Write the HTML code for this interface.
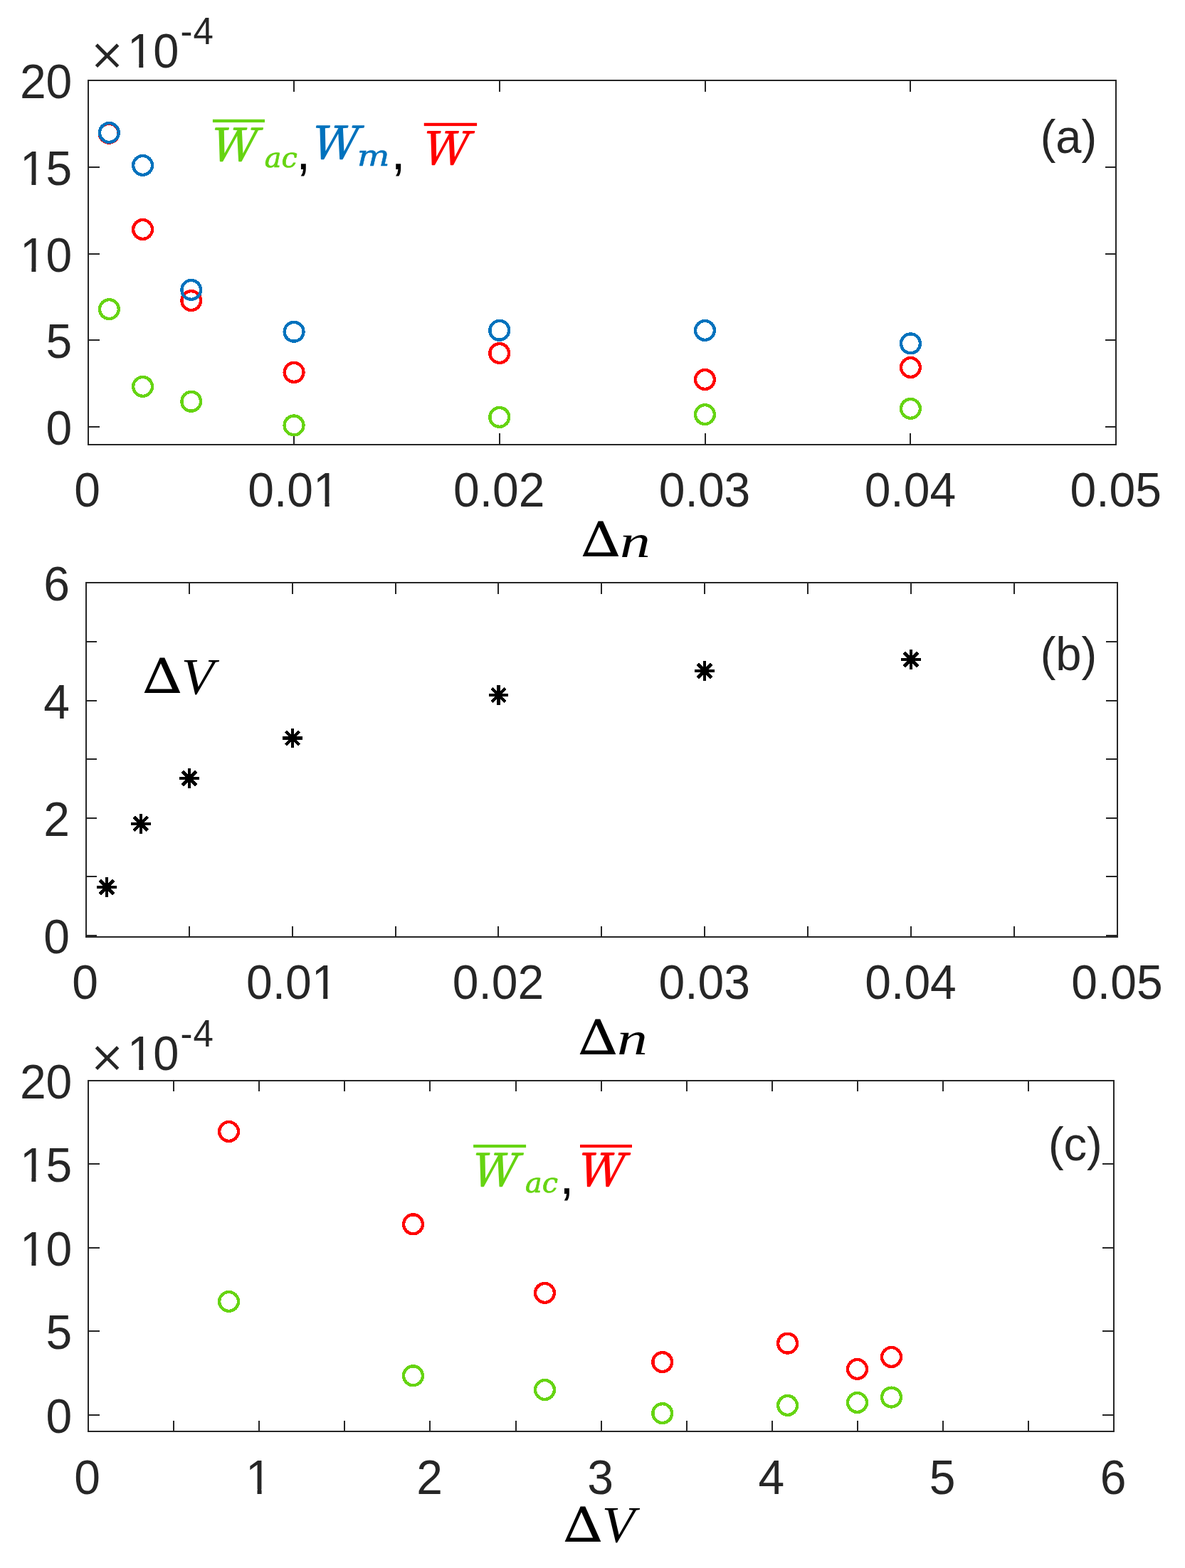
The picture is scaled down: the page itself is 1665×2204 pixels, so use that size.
<!DOCTYPE html>
<html lang="en">
<head>
<meta charset="utf-8">
<title>Figure: W versus Δn and ΔV</title>
<style>
html,body{margin:0;padding:0;background:#fff}
body{width:1665px;height:2204px;overflow:hidden}
svg{display:block}
.s{font-family:"Liberation Sans",sans-serif}
.r{font-family:"Liberation Serif",serif}
.i{font-family:"Liberation Serif",serif;font-style:italic}
.d{font-family:"DejaVu Sans","Liberation Sans",sans-serif}
.dr{font-family:"DejaVu Serif","Liberation Serif",serif}
.di{font-family:"DejaVu Serif","Liberation Serif",serif;font-style:italic}
.dm{font-family:"DejaVu Math TeX Gyre","DejaVu Serif","Liberation Serif",serif}
.ni{font-family:"Noto Serif CJK SC","Liberation Serif",serif;font-style:italic}
.ax{fill:none;stroke:#262626;stroke-width:2}
.mk{fill:none;shape-rendering:crispEdges}
.st{fill:none;stroke:#000;shape-rendering:crispEdges}
</style>
</head>
<body>
<svg xmlns="http://www.w3.org/2000/svg" width="1665" height="2204" viewBox="0 0 1665 2204">
<rect width="1665" height="2204" fill="#fff"/>
<defs>
<clipPath id="c15" clipPathUnits="userSpaceOnUse"><path d="M-9 -70H260V20H36.00V-6.2H22.80V20H16.65V-6.2H2.00V20H-9Z"/></clipPath>
<clipPath id="c10" clipPathUnits="userSpaceOnUse"><path d="M-9 -70H260V20H36.00V-6.2H22.80V20H16.65V-6.2H2.00V20H-9Z"/></clipPath>
<clipPath id="c0_01" clipPathUnits="userSpaceOnUse"><path d="M-9 -70H260V20H128.68V-6.2H115.48V20H109.33V-6.2H94.68V20H-9Z"/></clipPath>
<clipPath id="c1" clipPathUnits="userSpaceOnUse"><path d="M-9 -70H260V20H36.00V-6.2H22.80V20H16.65V-6.2H2.00V20H-9Z"/></clipPath>
</defs>
<g id="panel-a">
<path class="ax" d="M124 113H1568V625H124ZM413 625v-16M413 113v16M702 625v-16M702 113v16M991 625v-16M991 113v16M1279 625v-16M1279 113v16M124 600h16M1568 600h-15M124 478h16M1568 478h-15M124 357h16M1568 357h-15M124 235h16M1568 235h-15"/>
<g class="mk" stroke="#66D412" stroke-width="4.4">
<circle cx="153.4" cy="434.6" r="13.4"/><circle cx="200.55" cy="543.4" r="13.4"/><circle cx="268.7" cy="564.3" r="13.4"/><circle cx="413.05" cy="597.9" r="13.4"/><circle cx="701.75" cy="586.4" r="13.4"/><circle cx="990.47" cy="582.6" r="13.4"/><circle cx="1279.45" cy="574.4" r="13.4"/>
</g>
<g class="mk" stroke="#FF0000" stroke-width="4.4">
<circle cx="153.1" cy="187.2" r="13.4"/><circle cx="200.55" cy="322.5" r="13.4"/><circle cx="268.7" cy="422.6" r="13.4"/><circle cx="413.05" cy="523.4" r="13.4"/><circle cx="701.75" cy="496.5" r="13.4"/><circle cx="990.47" cy="533.5" r="13.4"/><circle cx="1279.45" cy="516.5" r="13.4"/>
</g>
<g class="mk" stroke="#0072BD" stroke-width="4.4">
<circle cx="153.4" cy="186.5" r="13.4"/><circle cx="200.55" cy="232.45" r="13.4"/><circle cx="268.7" cy="407.4" r="13.4"/><circle cx="413.05" cy="466.3" r="13.4"/><circle cx="701.75" cy="464.3" r="13.4"/><circle cx="990.47" cy="464.46" r="13.4"/><circle cx="1279.45" cy="482.9" r="13.4"/>
</g>
</g>
<g id="panel-b">
<path class="ax" d="M121 819H1570V1317H121ZM266 1317v-15M266 819v16M411 1317v-15M411 819v16M556 1317v-15M556 819v16M700 1317v-15M700 819v16M845 1317v-15M845 819v16M990 1317v-15M990 819v16M1135 1317v-15M1135 819v16M1280 1317v-15M1280 819v16M1425 1317v-15M1425 819v16M121 1315h15M1570 1315h-16M121 1232h15M1570 1232h-16M121 1150h15M1570 1150h-16M121 1067h15M1570 1067h-16M121 985h15M1570 985h-16M121 902h15M1570 902h-16"/>
<path class="st" d="M136.1 1247.1h27.9M150.05 1233.15v27.9M183.85 1157.8h27.9M197.8 1143.85v27.9M251.95 1094.1h27.9M265.9 1080.15v27.9M397.05 1037.45h27.9M411 1023.5v27.9M686.55 977h27.9M700.5 963.05v27.9M976.15 943h27.9M990.1 929.05v27.9M1266.07 927h27.9M1280.02 913.05v27.9" stroke-width="4.167"/>
<path class="st" d="M140.43 1237.48l19.23 19.23M140.43 1256.72l19.23 -19.23M188.18 1148.18l19.23 19.23M188.18 1167.42l19.23 -19.23M256.28 1084.48l19.23 19.23M256.28 1103.72l19.23 -19.23M401.38 1027.83l19.23 19.23M401.38 1047.07l19.23 -19.23M690.88 967.38l19.23 19.23M690.88 986.62l19.23 -19.23M980.48 933.38l19.23 19.23M980.48 952.62l19.23 -19.23M1270.4 917.38l19.23 19.23M1270.4 936.62l19.23 -19.23" stroke-width="4.7"/>
</g>
<g id="panel-c">
<path class="ax" d="M124 1519H1565V2012H124ZM244 2012v-15M244 1519v15M364 2012v-15M364 1519v15M484 2012v-15M484 1519v15M604 2012v-15M604 1519v15M725 2012v-15M725 1519v15M845 2012v-15M845 1519v15M965 2012v-15M965 1519v15M1085 2012v-15M1085 1519v15M1205 2012v-15M1205 1519v15M1325 2012v-15M1325 1519v15M1445 2012v-15M1445 1519v15M124 1989h16M1565 1989h-16M124 1871h16M1565 1871h-16M124 1754h16M1565 1754h-16M124 1636h16M1565 1636h-16"/>
<g class="mk" stroke="#66D412" stroke-width="4.4">
<circle cx="321.53" cy="1829.46" r="13.4"/><circle cx="580.5" cy="1933.76" r="13.4"/><circle cx="765.48" cy="1953.5" r="13.4"/><circle cx="930.72" cy="1986.6" r="13.4"/><circle cx="1106.58" cy="1975.45" r="13.4"/><circle cx="1204.52" cy="1971.49" r="13.4"/><circle cx="1252.52" cy="1964.03" r="13.4"/>
</g>
<g class="mk" stroke="#FF0000" stroke-width="4.4">
<circle cx="321.53" cy="1590.49" r="13.4"/><circle cx="580.5" cy="1720.8" r="13.4"/><circle cx="765.48" cy="1817.41" r="13.4"/><circle cx="930.72" cy="1914.55" r="13.4"/><circle cx="1106.58" cy="1888.17" r="13.4"/><circle cx="1204.52" cy="1924.46" r="13.4"/><circle cx="1252.52" cy="1907.49" r="13.4"/>
</g>
</g>
<g id="labels" font-size="66.67" fill="#262626">
<text class="s" transform="translate(27.88 138.45) scale(0.99 1.025)">20</text>
<text class="s" transform="translate(27.88 260.45) scale(0.99 1.025)" clip-path="url(#c15)">15</text>
<text class="s" transform="translate(27.88 382.45) scale(0.99 1.025)" clip-path="url(#c10)">10</text>
<text class="s" transform="translate(64.59 503.45) scale(0.99 1.025)">5</text>
<text class="s" transform="translate(64.59 625.45) scale(0.99 1.025)">0</text>
<text class="s" transform="translate(104.15 711.5) scale(0.99 1.025)">0</text>
<text class="s" transform="translate(348.27 711.5) scale(0.99 1.025)" clip-path="url(#c0_01)">0.01</text>
<text class="s" transform="translate(637.07 711.5) scale(0.99 1.025)">0.02</text>
<text class="s" transform="translate(925.87 711.5) scale(0.99 1.025)">0.03</text>
<text class="s" transform="translate(1214.67 711.5) scale(0.99 1.025)">0.04</text>
<text class="s" transform="translate(1503.47 711.5) scale(0.99 1.025)">0.05</text>
<text class="s" transform="translate(61.29 844.45) scale(0.99 1.025)">6</text>
<text class="s" transform="translate(61.29 1010.45) scale(0.99 1.025)">4</text>
<text class="s" transform="translate(61.29 1175.45) scale(0.99 1.025)">2</text>
<text class="s" transform="translate(61.29 1340.45) scale(0.99 1.025)">0</text>
<text class="s" transform="translate(101.15 1404.4) scale(0.99 1.025)">0</text>
<text class="s" transform="translate(345.97 1404.4) scale(0.99 1.025)" clip-path="url(#c0_01)">0.01</text>
<text class="s" transform="translate(635.77 1404.4) scale(0.99 1.025)">0.02</text>
<text class="s" transform="translate(925.57 1404.4) scale(0.99 1.025)">0.03</text>
<text class="s" transform="translate(1215.37 1404.4) scale(0.99 1.025)">0.04</text>
<text class="s" transform="translate(1505.17 1404.4) scale(0.99 1.025)">0.05</text>
<text class="s" transform="translate(27.88 1544.45) scale(0.99 1.025)">20</text>
<text class="s" transform="translate(27.88 1661.45) scale(0.99 1.025)" clip-path="url(#c15)">15</text>
<text class="s" transform="translate(27.88 1779.45) scale(0.99 1.025)" clip-path="url(#c10)">10</text>
<text class="s" transform="translate(64.59 1896.45) scale(0.99 1.025)">5</text>
<text class="s" transform="translate(64.59 2014.45) scale(0.99 1.025)">0</text>
<text class="s" transform="translate(104.15 2099.5) scale(0.99 1.025)">0</text>
<text class="s" transform="translate(345.01 2099.5) scale(0.99 1.025)" clip-path="url(#c1)">1</text>
<text class="s" transform="translate(585.18 2099.5) scale(0.99 1.025)">2</text>
<text class="s" transform="translate(825.35 2099.5) scale(0.99 1.025)">3</text>
<text class="s" transform="translate(1065.51 2099.5) scale(0.99 1.025)">4</text>
<text class="s" transform="translate(1305.68 2099.5) scale(0.99 1.025)">5</text>
<text class="s" transform="translate(1545.85 2099.5) scale(0.99 1.025)">6</text>
<text class="s" transform="translate(1461.65 215) scale(0.976 1.013)">(a)</text>
<text class="s" transform="translate(1461.65 941.8) scale(0.976 1.013)">(b)</text>
<text class="s" transform="translate(1472.9 1630.9) scale(0.976 1.013)">(c)</text>
<text class="dr" transform="translate(125.42 97.32) scale(0.9967 0.99)" font-size="60">×</text>
<text class="s" transform="translate(179.03 94.82) scale(0.975 1.025)" clip-path="url(#c10)">10</text>
<text class="s" transform="translate(253.42 61.6) scale(0.99 1.025)" font-size="51.5" letter-spacing="1.2">-4</text>
<text class="dr" transform="translate(125.42 1506.22) scale(0.9967 0.99)" font-size="60">×</text>
<text class="s" transform="translate(179.03 1503.72) scale(0.975 1.025)" clip-path="url(#c10)">10</text>
<text class="s" transform="translate(253.42 1470.5) scale(0.99 1.025)" font-size="51.5" letter-spacing="1.2">-4</text>
<text class="dm" transform="translate(812.32 782.2) scale(1.198 1.021)" font-size="66" fill="#000">Δ</text>
<text class="i" transform="translate(871.1 783) scale(1.19 0.9222)" font-size="72" fill="#000">n</text>
<text class="dm" transform="translate(808.22 1482.3) scale(1.198 1.021)" font-size="66" fill="#000">Δ</text>
<text class="i" transform="translate(867.05 1482.2) scale(1.19 0.9222)" font-size="72" fill="#000">n</text>
<text class="dm" transform="translate(196.32 974.45) scale(1.198 1.024)" font-size="66" fill="#000">Δ</text>
<text class="i" transform="translate(254.83 974.72) scale(1.049 0.9961)" font-size="72" fill="#000">V</text>
<text class="dm" transform="translate(787.22 2167.4) scale(1.198 1.025)" font-size="66" fill="#000">Δ</text>
<text class="i" transform="translate(845.83 2166.62) scale(1.049 0.9961)" font-size="72" fill="#000">V</text>
<text class="ni" transform="translate(290.8 225.9) scale(0.9687 0.9572)" font-size="66" fill="#66D412" stroke="#66D412" stroke-width="1.7" stroke-linejoin="round">W</text>
<text class="di" transform="translate(371.79 235.33) scale(0.9046 0.8975)" font-size="44" fill="#66D412" stroke="#66D412" stroke-width="0.8" stroke-linejoin="round">ac</text>
<text class="s" transform="translate(416.36 237.58) scale(1.001 0.9928)" font-size="72" fill="#000">,</text>
<text class="ni" transform="translate(432.68 222.8) scale(0.9701 0.9582)" font-size="66" fill="#0072BD" stroke="#0072BD" stroke-width="1.7" stroke-linejoin="round">W</text>
<text class="di" transform="translate(501.82 232.87) scale(1.097 0.9259)" font-size="44" fill="#0072BD" stroke="#0072BD" stroke-width="0.6" stroke-linejoin="round">m</text>
<text class="s" transform="translate(549.44 237.58) scale(1.01 0.9928)" font-size="72" fill="#000">,</text>
<text class="ni" transform="translate(588.71 231) scale(0.9587 0.9632)" font-size="66" fill="#FF0000" stroke="#FF0000" stroke-width="1.7" stroke-linejoin="round">W</text>
<text class="ni" transform="translate(657.85 1666.81) scale(0.9558 0.9552)" font-size="66" fill="#66D412" stroke="#66D412" stroke-width="1.7" stroke-linejoin="round">W</text>
<text class="di" transform="translate(738.09 1676.34) scale(0.9026 0.8855)" font-size="44" fill="#66D412" stroke="#66D412" stroke-width="0.8" stroke-linejoin="round">ac</text>
<text class="s" transform="translate(786.24 1677.58) scale(1.01 0.9928)" font-size="72" fill="#000">,</text>
<text class="ni" transform="translate(806.66 1666.8) scale(0.9715 0.9592)" font-size="66" fill="#FF0000" stroke="#FF0000" stroke-width="1.7" stroke-linejoin="round">W</text>
<rect x="298.9" y="167.8" width="73.1" height="4.3" fill="#66D412"/>
<rect x="595.75" y="172.8" width="74.35" height="4.3" fill="#FF0000"/>
<rect x="665.1" y="1608.9" width="74" height="4.2" fill="#66D412"/>
<rect x="815" y="1608.9" width="73" height="4.2" fill="#FF0000"/>
</g>
</svg>
</body>
</html>
